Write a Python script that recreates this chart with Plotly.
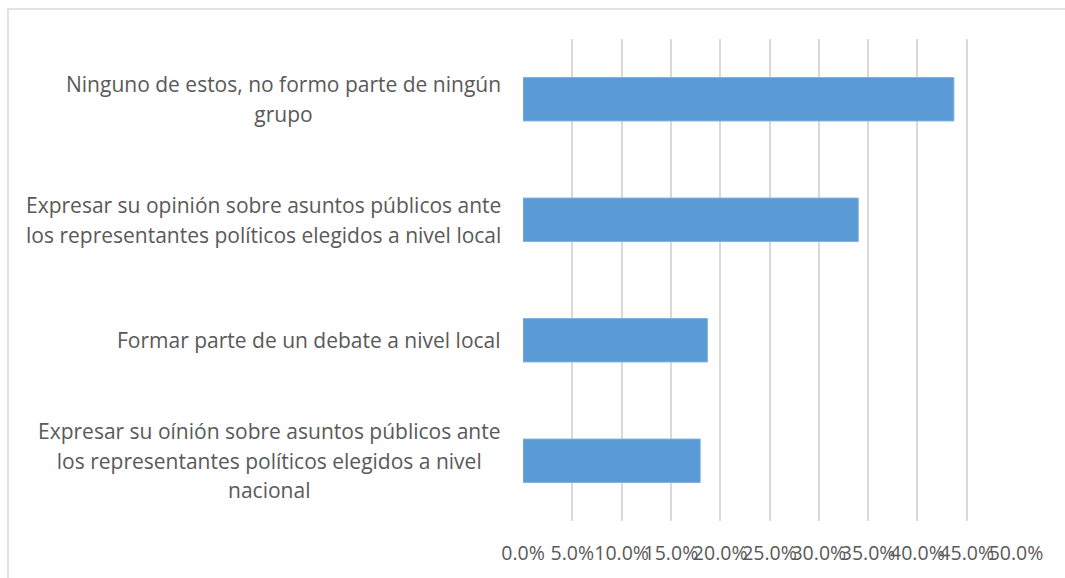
import plotly.graph_objects as go

# Survey answers (bottom to top) and share of respondents, in percent
categories = [
    "Expresar su oínión sobre asuntos públicos ante<br>los representantes políticos elegidos a nivel<br>nacional",
    "Formar parte de un debate a nivel local",
    "Expresar su opinión sobre asuntos públicos ante<br>los representantes políticos elegidos a nivel local",
    "Ninguno de estos, no formo parte de ningún<br>grupo",
]
values = [17.97, 18.7, 34.0, 43.7]
tick_values = [0, 5, 10, 15, 20, 25, 30, 35, 40, 45, 50]
tick_labels = ["0.0%", "5.0%", "10.0%", "15.0%", "20.0%", "25.0%",
               "30.0%", "35.0%", "40.0%", "45.0%", "50.0%"]

W, H = 1065, 578
ML, MR, MT, MB = 523, 49, 39, 57
PW, PH = W - ML - MR, H - MT - MB

TEXT = "#595959"
FONT = "Open Sans"

fig = go.Figure(
    go.Bar(
        y=categories,
        x=values,
        orientation="h",
        marker=dict(color="#5B9BD5", line=dict(color="#7FB1E0", width=1)),
        hoverinfo="skip",
    )
)

# Category labels: centred multi-line blocks right-aligned against the plot
for cat in categories:
    fig.add_annotation(
        x=0, xref="x", y=cat, yref="y",
        text=f"<span style='font-size:21px'>{cat}</span>",
        showarrow=False, xanchor="right", yanchor="middle", align="center",
        xshift=-20,
        font=dict(family=FONT, size=22.7, color=TEXT),
    )

# Light frame around the chart area
def px_to_paper_x(px):
    return (px - ML) / PW

def px_to_paper_y(py):
    return (H - MB - py) / PH

fig.add_shape(
    type="rect", xref="paper", yref="paper",
    x0=px_to_paper_x(8), x1=px_to_paper_x(1075),
    y0=px_to_paper_y(590), y1=px_to_paper_y(9),
    line=dict(color="#D9D9D9", width=1.5), fillcolor="rgba(0,0,0,0)",
    layer="below",
)

fig.update_layout(
    width=W, height=H,
    margin=dict(l=ML, r=MR, t=MT, b=MB, pad=0, autoexpand=False),
    paper_bgcolor="white", plot_bgcolor="white",
    showlegend=False,
    bargap=0.64,
    font=dict(family=FONT, size=18, color=TEXT),
    xaxis=dict(
        range=[0, 50],
        tickvals=tick_values, ticktext=tick_labels,
        tickangle=0, automargin=False,
        showgrid=True, gridcolor="#D9D9D9", gridwidth=1.5,
        zeroline=False, showline=False, ticks="",
        ticklabelstandoff=18,
        tickfont=dict(family=FONT, size=19.5, color=TEXT),
        fixedrange=True,
    ),
    yaxis=dict(
        type="category", categoryorder="array", categoryarray=categories,
        showticklabels=False, showgrid=False, zeroline=False,
        showline=False, ticks="", fixedrange=True, automargin=False,
    ),
)

fig.write_html("out.html")
